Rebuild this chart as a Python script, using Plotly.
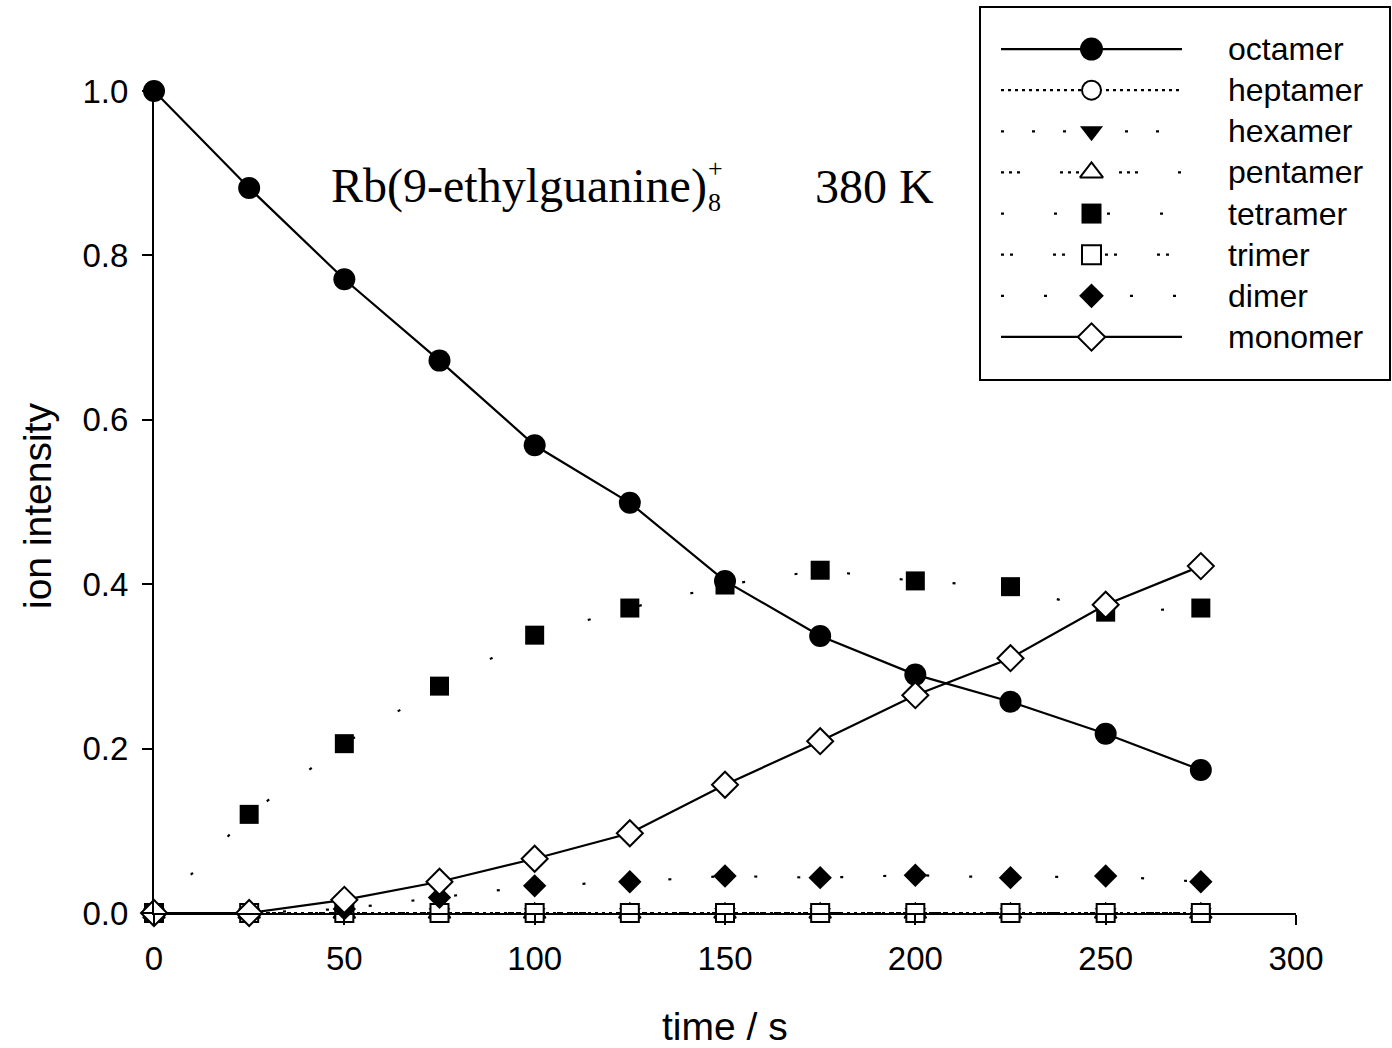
import plotly.graph_objects as go

# ---------------- data ----------------
time_s = [0, 25, 50, 75, 100, 125, 150, 175, 200, 225, 250, 275]
octamer = [1.000, 0.882, 0.771, 0.672, 0.569, 0.499, 0.404, 0.337, 0.290, 0.257, 0.218, 0.174]
heptamer = [0.0, 0.0, 0.0, 0.0, 0.0, 0.0, 0.0, 0.0, 0.0, 0.0, 0.0, 0.0]
hexamer = [0.0, 0.0, 0.0, 0.0, 0.0, 0.0, 0.0, 0.0, 0.0, 0.0, 0.0, 0.0]
pentamer = [0.0, 0.0, 0.0, 0.0, 0.0, 0.0, 0.0, 0.0, 0.0, 0.0, 0.0, 0.0]
tetramer = [0.0, 0.120, 0.206, 0.276, 0.338, 0.371, 0.399, 0.417, 0.404, 0.397, 0.366, 0.371]
trimer = [0.0, 0.0, 0.0, 0.0, 0.0, 0.0, 0.0, 0.0, 0.0, 0.0, 0.0, 0.0]
dimer = [0.0, 0.0, 0.005, 0.019, 0.033, 0.038, 0.045, 0.043, 0.046, 0.043, 0.045, 0.038]
monomer = [0.0, 0.0, 0.016, 0.038, 0.066, 0.097, 0.156, 0.209, 0.265, 0.310, 0.375, 0.422]

series_names = ["octamer", "heptamer", "hexamer", "pentamer", "tetramer", "trimer", "dimer", "monomer"]
series_values = [octamer, heptamer, hexamer, pentamer, tetramer, trimer, dimer, monomer]

x_ticks = [0, 50, 100, 150, 200, 250, 300]
y_ticks = [0.0, 0.2, 0.4, 0.6, 0.8, 1.0]
y_tick_labels = ["0.0", "0.2", "0.4", "0.6", "0.8", "1.0"]

x_title = "time / s"
y_title = "ion intensity"

# ---------------- styles ----------------
styles = {
    "octamer":  dict(symbol="circle", fill="black", size=22, dash="solid"),
    "heptamer": dict(symbol="circle", fill="white", size=18, dash="3px,4px"),
    "hexamer":  dict(symbol="triangle-down", fill="black", size=19, dash="3px,28px"),
    "pentamer": dict(symbol="triangle-up", fill="white", size=19, dash="3px,5px,3px,5px,3px,40px"),
    "tetramer": dict(symbol="square", fill="black", size=19, dash="3px,50px"),
    "trimer":   dict(symbol="square", fill="white", size=18, dash="3px,6px,3px,40px"),
    "dimer":    dict(symbol="diamond", fill="black", size=18, dash="3px,40px"),
    "monomer":  dict(symbol="diamond", fill="white", size=20, dash="solid"),
}
draw_order = ["heptamer", "hexamer", "pentamer", "trimer", "dimer", "tetramer", "octamer", "monomer"]

W, H = 1392, 1048
L, B = 154, 135
paper_w = W - L          # right margin 0
paper_h = H - B          # top margin 0
plot_w = 1142
plot_h = 822


def px_x(p):
    return (p - L) / paper_w


def px_y(p):
    return (paper_h - p) / paper_h


fig = go.Figure()
data_map = dict(zip(series_names, series_values))


def marker_spec(st, extra=0):
    return dict(symbol=st["symbol"], size=st["size"] + extra, color=st["fill"], opacity=1,
                line=dict(color="black", width=2 if st["fill"] == "white" else 0))


for name in draw_order:
    st = styles[name]
    fig.add_trace(go.Scatter(
        x=time_s, y=data_map[name], mode="lines+markers", name=name,
        line=dict(color="black", width=2.2, dash=st["dash"]),
        marker=marker_spec(st),
        cliponaxis=False, showlegend=False, xaxis="x", yaxis="y",
    ))

# custom legend drawn on an auxiliary axis pair
n = len(series_names)
legend_text_x = px_x(1226)
for i, name in enumerate(series_names):
    st = styles[name]
    row = n - i
    fig.add_trace(go.Scatter(
        x=[0, 1], y=[row, row], mode="lines",
        line=dict(color="black", width=2.2, dash=st["dash"]),
        cliponaxis=False, showlegend=False, xaxis="x2", yaxis="y2", hoverinfo="skip",
    ))
    fig.add_trace(go.Scatter(
        x=[0.5], y=[row], mode="markers", marker=marker_spec(st, 1),
        cliponaxis=False, showlegend=False, xaxis="x2", yaxis="y2", hoverinfo="skip",
    ))
    row_px = 49 + i * 41.15
    fig.add_annotation(x=legend_text_x, y=px_y(row_px), xref="paper", yref="paper", text=name,
                       showarrow=False, xanchor="left", yanchor="middle",
                       font=dict(family="Liberation Sans, Arial", size=32, color="black"))

fig.add_shape(type="rect", xref="paper", yref="paper",
              x0=px_x(980), x1=px_x(1390), y0=px_y(380), y1=px_y(7),
              line=dict(color="black", width=2), fillcolor="rgba(0,0,0,0)", layer="below")

serif = "Liberation Serif, Times New Roman, serif"
fig.add_annotation(x=46.0, y=0.885, xref="x", yref="y", text="Rb(9-ethylguanine)",
                   showarrow=False, xanchor="left", yanchor="middle",
                   font=dict(family=serif, size=48, color="black"))
fig.add_annotation(x=145.0, y=0.906, xref="x", yref="y", text="+",
                   showarrow=False, xanchor="left", yanchor="middle",
                   font=dict(family=serif, size=26, color="black"))
fig.add_annotation(x=145.0, y=0.864, xref="x", yref="y", text="8",
                   showarrow=False, xanchor="left", yanchor="middle",
                   font=dict(family=serif, size=26, color="black"))
fig.add_annotation(x=173, y=0.884, xref="x", yref="y", text="380 K",
                   showarrow=False, xanchor="left", yanchor="middle",
                   font=dict(family=serif, size=48, color="black"))

sans = "Liberation Sans, Arial, sans-serif"
fig.add_annotation(x=px_x(725), y=px_y(1026), xref="paper", yref="paper", text=x_title,
                   showarrow=False, xanchor="center", yanchor="middle",
                   font=dict(family=sans, size=39, color="black"))
fig.add_annotation(x=px_x(37), y=px_y(506), xref="paper", yref="paper", text=y_title,
                   showarrow=False, xanchor="center", yanchor="middle", textangle=-90,
                   font=dict(family=sans, size=39, color="black"))

fig.update_layout(
    template="none",
    width=W, height=H,
    margin=dict(l=L, r=0, t=0, b=B, pad=0, autoexpand=False),
    paper_bgcolor="white", plot_bgcolor="white",
    font=dict(family=sans, size=32, color="black"),
    showlegend=False,
    xaxis=dict(domain=[0, plot_w / paper_w], range=[0, 300], tickvals=x_ticks, automargin=False,
               ticks="outside", ticklen=10, tickwidth=2, tickcolor="black",
               showline=True, linecolor="black", linewidth=2, showgrid=False, zeroline=False,
               tickfont=dict(size=33), ticklabelstandoff=5),
    yaxis=dict(domain=[0, plot_h / paper_h], range=[0, 1.0], tickvals=y_ticks, ticktext=y_tick_labels,
               automargin=False,
               ticks="outside", ticklen=10, tickwidth=2, tickcolor="black",
               showline=True, linecolor="black", linewidth=2, showgrid=False, zeroline=False,
               tickfont=dict(size=33), ticklabelstandoff=7),
    xaxis2=dict(domain=[px_x(1001), px_x(1182)], range=[0, 1], visible=False, anchor="y2",
                automargin=False),
    yaxis2=dict(domain=[px_y(357.5), px_y(28.5)], range=[0.5, 8.5], visible=False, anchor="x2",
                automargin=False),
)

fig.write_html("out.html")
